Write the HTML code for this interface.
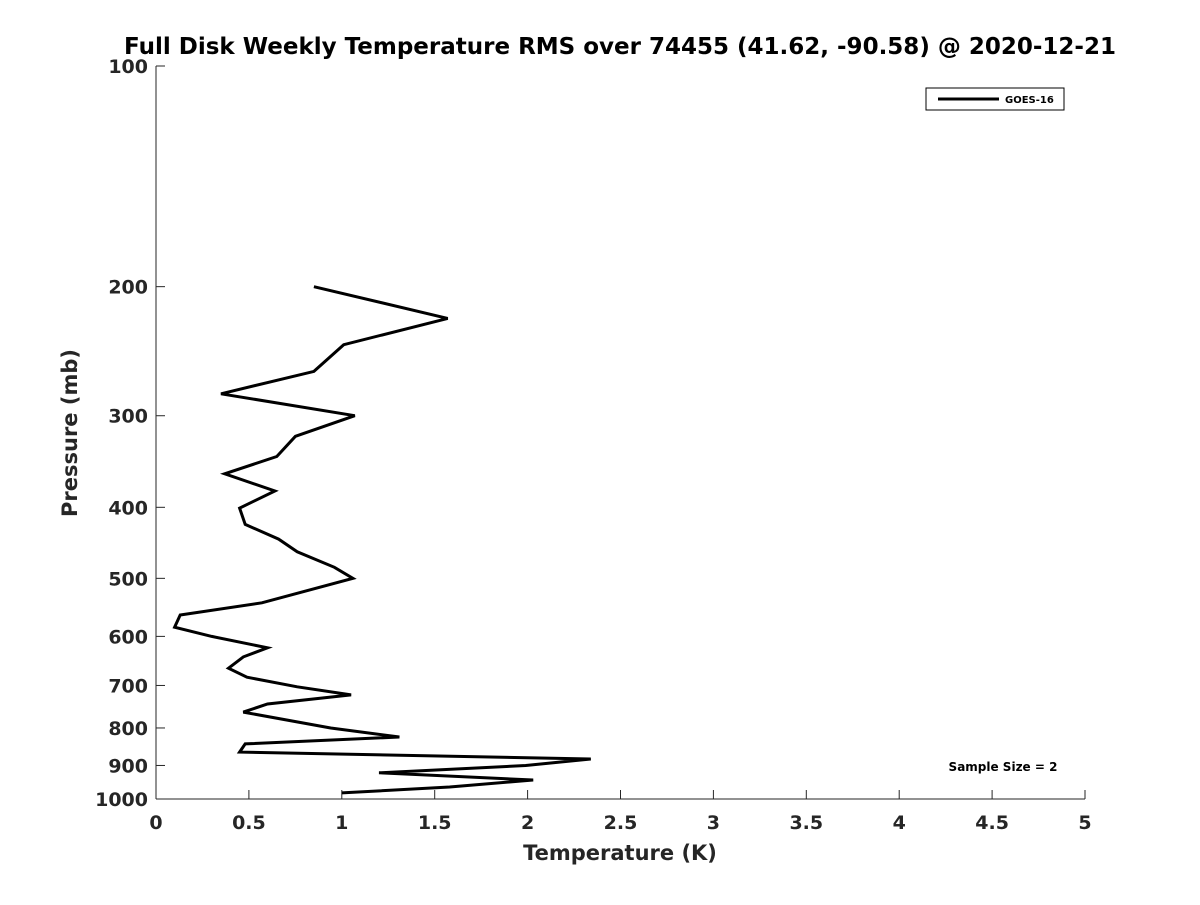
<!DOCTYPE html>
<html><head><meta charset="utf-8"><style>
body{margin:0;background:#fff;font-family:"Liberation Sans",sans-serif}
svg text{font-family:"DejaVu Sans","Liberation Sans",sans-serif;font-weight:bold;fill:#262626}
</style></head><body>
<svg id="chart" width="1200" height="900" xmlns="http://www.w3.org/2000/svg">
<rect width="1200" height="900" fill="#fff"/>
<text x="620" y="54" font-size="23" text-anchor="middle" style="fill:#000">Full Disk Weekly Temperature RMS over 74455 (41.62, -90.58) @ 2020-12-21</text>
<g id="axes"></g>
<path id="line" fill="none" stroke="#000" stroke-width="3" stroke-linejoin="miter"/>
<g>
<rect x="926" y="88" width="138" height="22" fill="#fff" stroke="#000" stroke-width="1"/>
<line x1="938" y1="99" x2="999" y2="99" stroke="#000" stroke-width="3"/>
<text x="1005" y="103" font-size="10" style="fill:#000">GOES-16</text>
</g>
<text x="1003" y="771" font-size="12" text-anchor="middle" style="fill:#000">Sample Size = 2</text>
<text x="620" y="860" font-size="21" text-anchor="middle">Temperature (K)</text>
<text transform="translate(77,433) rotate(-90)" font-size="21" text-anchor="middle">Pressure (mb)</text>
</svg>
<script>
const temps=[0.85,1.57,1.01,0.85,0.35,1.07,0.75,0.65,0.37,0.64,0.45,0.48,0.66,0.76,0.96,1.06,0.57,0.13,0.10,0.30,0.60,0.47,0.39,0.49,0.76,1.05,0.60,0.47,0.94,1.31,0.48,0.45,2.34,1.99,1.20,2.03,1.58,1.00];
const pressures=[200,221,240,261,280,300,320,341,360,380,401,422,442,460,483,500,540,561,583,600,622,640,663,682,703,721,742,761,800,823,841,863,882,900,921,942,963,981];
const xTicks=[0,0.5,1,1.5,2,2.5,3,3.5,4,4.5,5];
const yTicks=[100,200,300,400,500,600,700,800,900,1000];
const X0=156,X1=1085,Y0=66,Y1=799;
const xs=v=>X0+(v-0)/(5-0)*(X1-X0);
const ys=p=>Y0+(Math.log10(p)-2)*(Y1-Y0);
const ns="http://www.w3.org/2000/svg";
const ax=document.getElementById('axes');
function mk(t,a){const e=document.createElementNS(ns,t);for(const k in a)e.setAttribute(k,a[k]);return e;}
const xl=mk('line',{x1:X0,y1:Y1,x2:X1,y2:Y1,stroke:'#262626','stroke-width':1});


ax.appendChild(xl);
const yl=mk('line',{x1:X0,y1:Y0,x2:X0,y2:Y1,stroke:'#262626','stroke-width':1});


ax.appendChild(yl);
xTicks.forEach(v=>{
 const x=xs(v);
 const t=mk('line',{x1:x,y1:Y1,x2:x,y2:Y1-9,stroke:'#262626'});
 
 
 ax.appendChild(t);
 const l=mk('text',{x:x,y:Y1+30,'font-size':19,'text-anchor':'middle'});
 
 
 l.textContent=String(v);ax.appendChild(l);
});
yTicks.forEach(v=>{
 const y=ys(v);
 const t=mk('line',{x1:X0,y1:y,x2:X0+9,y2:y,stroke:'#262626'});
 
 
 ax.appendChild(t);
 const l=mk('text',{x:X0-8,y:y+7,'font-size':19,'text-anchor':'end'});
 
 
 l.textContent=String(v);ax.appendChild(l);
});
document.getElementById('line').setAttribute('d',temps.map((t,i)=>(i?'L':'M')+xs(t).toFixed(1)+','+ys(pressures[i]).toFixed(1)).join(''));
</script>
</body></html>
